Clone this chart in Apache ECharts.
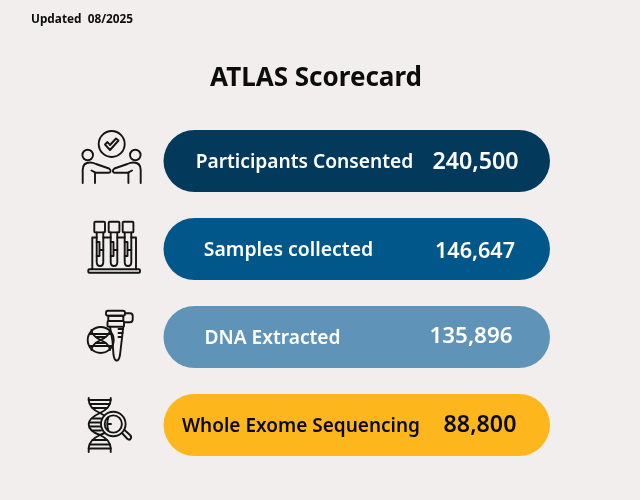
<!DOCTYPE html>
<html><head><meta charset="utf-8">
<style>html,body{margin:0;padding:0;background:#f1eeed}#c{width:640px;height:500px}</style>
<script src="https://cdn.jsdelivr.net/npm/echarts@6/dist/echarts.min.js"></script>
</head><body><div id="c"></div>
<script>
const categories = ['Participants Consented','Samples collected','DNA Extracted','Whole Exome Sequencing'];
const counts = [240500,146647,135896,88800];
const tickLabels = ['240,500','146,647','135,896','88,800'];
const pillColors = ['#033a5c','#01568a','#5f94b8','#fdb71d'];
const textColors = ['#ffffff','#ffffff','#ffffff','#0a0a0a'];
const labelCenter = [141,125,109,137.5];
const labelFont = [19.2,19.4,19.2,19];
const valueCenter = [312,311.5,307.5,316.5];
const valueShift = [1.5,3,-0.5,0.5];
const valueFont = [23.2,21.6,22.4,23.2];

const FONT = '"Noto Sans", "Open Sans", sans-serif';
const chart = echarts.init(document.getElementById('c'), null, {renderer:'canvas'});
const ink = {fill:'none', stroke:'#141414', lineWidth:1.9, lineCap:'round', lineJoin:'round'};
function pathEl(d){return {type:'path', shape:{pathData:d}, style:ink, silent:true};}
function circ(cx,cy,r){return {type:'circle', shape:{cx,cy,r}, style:ink, silent:true};}
function rect(x,y,width,height,ra){return {type:'rect', shape:{x,y,width,height,r:ra||0}, style:ink, silent:true};}

const icons = [
  circ(111.7,144,13), circ(87.7,155,5.3), circ(135.3,155,5.3),
  pathEl('M105 144.5 L110 150 L118.5 140.5 L116 138.5 L110 145 L107.5 142 Z'),
  pathEl('M82.7 183 V170 Q82.7 162.5 90 162.5 Q93 162.5 96 164 L109 168.5 Q111 170 110.5 171.5 Q110 173 108 172.7 L95.5 172.7 L91.5 170.5'),
  pathEl('M140.7 183 V170 Q140.7 162.5 133.4 162.5 Q130.4 162.5 127.4 164 L114.4 168.5 Q112.4 170 112.9 171.5 Q113.4 173 115.4 172.7 L128 172.7 L132 170.5'),
  pathEl('M95 172.7 V183 M128.4 172.7 V183'),
  rect(94.3,221.7,10.7,10.7,1), rect(108.7,221.7,10.7,10.7,1), rect(122.7,221.7,10.7,10.7,1),
  pathEl('M96.7 232.4 V262 Q96.7 266 100 266 Q103.3 266 103.3 262 V232.4'),
  pathEl('M110.7 232.4 V262 Q110.7 266 114 266 Q117.3 266 117.3 262 V232.4'),
  pathEl('M124.7 232.4 V262 Q124.7 266 128 266 Q131.3 266 131.3 262 V232.4'),
  pathEl('M96.7 242 H99.5 V256 H96.7 M110.7 242 H113.5 V256 H110.7 M124.7 242 H127.5 V256 H124.7 M99.5 250 H103.3 M113.5 250 H117.3 M127.5 250 H131.3'),
  pathEl('M92.3 269 V237.5 H96.7 M103.3 237.5 H110.7 M117.3 237.5 H124.7 M131.3 237.5 H136 V269'),
  rect(88.3,269.3,51.7,3.4,1),
  circ(100.7,340,13),
  pathEl('M91.5 330 Q92 336 100.7 340 Q109.5 344 110 350 M110 330 Q109.5 336 100.7 340 Q92 344 91.5 350'),
  pathEl('M90 334 H111.5 M90 346 H111.5 M96 337 H105.5 M96 343 H105.5'),
  rect(106,310.7,19,5,2), rect(108.3,315.7,15,5.3,1), rect(107.5,321,16.5,5.7,1),
  pathEl('M110 326.7 L112.5 341 M112.5 341 L113.5 355 Q114.5 360.5 116.7 360.5 Q119 360.5 120 355 L123.3 326.7'),
  pathEl('M125 313.3 H130 Q132.7 313.3 132.7 316 V319.6 Q132.7 322.3 130 322.3 H125'),
  pathEl('M118.5 329 H123 M118.5 333 H122.5 M118.5 337 H122'),
  pathEl('M88.7 398 V400 Q89 408 100 413 Q110 418 110.5 424 Q111 431 100 435 Q89 440 88.7 448 V452'),
  pathEl('M110.7 398 V400 Q110.5 408 100 413 Q89 418 88.7 424 Q88.5 431 100 435 Q110.5 440 110.7 448 V452'),
  pathEl('M88.7 400 H110.7 M90 404 H109.5 M92.5 408 H107 M92.5 418.5 H101 M89.5 422.5 H100.5 M89.5 426.5 H100.5 M92.5 430.5 H101 M92.5 440 H107 M90 444.5 H109.5 M88.7 448.5 H110.7'),
  {type:'circle', shape:{cx:113.3,cy:424,r:12.3}, style:{fill:'#f1eeed',stroke:'#141414',lineWidth:1.9}, silent:true},
  circ(113.3,424,8.6),
  pathEl('M108.5 417 Q106 424 108.5 431 M108.5 424 H111'),
  pathEl('M122 433 L127 438.5 Q129 440.5 130.5 439 Q132 437 130 435 L124.5 430')
];

chart.setOption({
  animation:false,
  backgroundColor:'#f1eeed',
  title:[
    {text:'ATLAS Scorecard', left:205, top:61,
     textStyle:{fontFamily:FONT, fontSize:26, fontWeight:700, color:'#0c0c0c'}},
    {text:'Updated  08/2025', left:26, top:9,
     textStyle:{fontFamily:FONT, fontSize:11.8, fontWeight:700, color:'#0c0c0c'}}
  ],
  grid:{left:163.5, width:386.5, top:117, height:352},
  xAxis:{type:'value', min:0, max:1, show:false},
  yAxis:{type:'category', inverse:true, data:categories, show:false},
  series:[{
    type:'custom',
    coordinateSystem:'cartesian2d',
    data:counts.map((v,i)=>[1,i,v]),
    renderItem(params, api){
      const i = params.dataIndex;
      const a = api.coord([0,i]), b = api.coord([1,i]);
      const h = 62;
      return {type:'group', children:[
        {type:'rect', shape:{x:a[0], y:a[1]-h/2, width:b[0]-a[0], height:h, r:31},
         style:{fill:pillColors[i]}},
        {type:'text', style:{x:a[0]+labelCenter[i], y:a[1]+1.5, text:categories[i], align:'center', verticalAlign:'middle',
          fill:textColors[i], font:'600 '+labelFont[i]+'px '+FONT}},
        {type:'text', style:{x:a[0]+valueCenter[i], y:a[1]+valueShift[i], text:tickLabels[i], align:'center', verticalAlign:'middle',
          fill:textColors[i], font:'600 '+valueFont[i]+'px '+FONT}}
      ]};
    }
  },{
    type:'custom',
    coordinateSystem:'none',
    silent:true,
    data:[0],
    renderItem(){ return {type:'group', children:icons}; }
  }]
});
</script></body></html>
